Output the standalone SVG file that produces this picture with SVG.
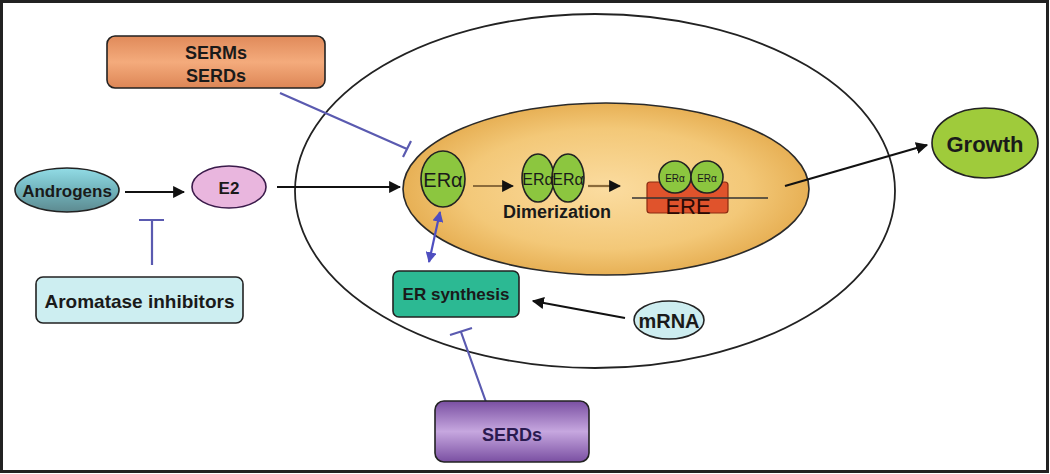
<svg xmlns="http://www.w3.org/2000/svg" width="1050" height="474" viewBox="0 0 1050 474">
<style>
.t{font-family:"Liberation Sans",Arial,sans-serif;font-weight:bold;fill:#1a1a1a;text-anchor:middle;dominant-baseline:central}
.r{font-family:"Liberation Sans",Arial,sans-serif;fill:#1a1a1a;text-anchor:middle;dominant-baseline:central}
.blk{stroke:#111;stroke-width:2.2;fill:none}
.inh{stroke:#5a5ab0;stroke-width:2.2;fill:none}
.ol{stroke:#222;stroke-width:1.6}
</style>
<defs>
<marker id="ah" viewBox="0 0 10 10" refX="9" refY="5" markerWidth="5.5" markerHeight="5.5" orient="auto"><path d="M0,0 L10,5 L0,10 z" fill="#111"/></marker>
<marker id="ahb" viewBox="0 0 10 10" refX="9" refY="5" markerWidth="5" markerHeight="5" orient="auto-start-reverse"><path d="M0,0 L10,5 L0,10 z" fill="#4e4ec0"/></marker>
<radialGradient id="gNuc" cx="50%" cy="50%" r="50%"><stop offset="0" stop-color="#fbdca0"/><stop offset="0.7" stop-color="#f3c878"/><stop offset="1" stop-color="#e7b055"/></radialGradient>
<linearGradient id="gSerm" x1="0" y1="0" x2="0" y2="1"><stop offset="0" stop-color="#e08a5a"/><stop offset="0.5" stop-color="#f4ab7c"/><stop offset="1" stop-color="#dd8656"/></linearGradient>
<linearGradient id="gAnd" x1="0" y1="0" x2="0" y2="1"><stop offset="0" stop-color="#92dce6"/><stop offset="0.5" stop-color="#72b4bc"/><stop offset="1" stop-color="#5d8a90"/></linearGradient>
<linearGradient id="gSerd" x1="0" y1="0" x2="0" y2="1"><stop offset="0" stop-color="#7a4fa2"/><stop offset="0.5" stop-color="#c6a7df"/><stop offset="1" stop-color="#7a4fa2"/></linearGradient>
</defs>
<rect x="1.5" y="1.5" width="1046" height="470" fill="#fff" stroke="#222" stroke-width="3"/>

<g id="cell"><ellipse cx="595" cy="191" rx="300" ry="177" fill="none" stroke="#222" stroke-width="1.8"/></g>
<g id="nucleus"><ellipse cx="606" cy="189" rx="203" ry="86" fill="url(#gNuc)" stroke="#2a2a2a" stroke-width="1.6"/></g>

<g id="connectors">
<line x1="125" y1="192" x2="184" y2="192" class="blk" marker-end="url(#ah)"/>
<line x1="277" y1="187" x2="400" y2="187" class="blk" marker-end="url(#ah)"/>
<line x1="473" y1="186" x2="513" y2="186" stroke="#8b6b3b" stroke-width="2.2" marker-end="url(#ah)"/>
<line x1="588" y1="186" x2="620" y2="186" stroke="#8b6b3b" stroke-width="2.2" marker-end="url(#ah)"/>
<line x1="785" y1="186" x2="927" y2="145" class="blk" marker-end="url(#ah)"/>
<line x1="625" y1="318" x2="533" y2="301" class="blk" marker-end="url(#ah)"/>
<line x1="440" y1="212" x2="429" y2="262" stroke="#4e4ec0" stroke-width="2.2" marker-start="url(#ahb)" marker-end="url(#ahb)"/>
<path class="inh" d="M152,265 L152,220 M139,220 L164,220"/>
<path class="inh" d="M280,93 L407,149 M403,157 L411,141"/>
<path class="inh" d="M486,402 L461,332 M450,335 L472,328"/>
</g>

<g id="serms"><rect x="107" y="36" width="218" height="52" rx="8" fill="url(#gSerm)" class="ol"/>
<text class="t" x="216" y="53" font-size="18">SERMs</text><text class="t" x="216" y="76" font-size="18">SERDs</text></g>

<g id="androgens"><ellipse cx="67" cy="190" rx="52" ry="22" fill="url(#gAnd)" class="ol"/>
<text class="t" x="67" y="191" font-size="17">Androgens</text></g>

<g id="e2"><ellipse cx="229" cy="187" rx="37" ry="21" fill="#e9b6de" stroke="#3a1a4a" stroke-width="1.6"/>
<text class="t" x="229" y="188" font-size="17">E2</text></g>

<g id="aromatase"><rect x="36" y="277" width="207" height="46" rx="7" fill="#cdeef1" class="ol"/>
<text class="t" x="139.5" y="301" font-size="19">Aromatase inhibitors</text></g>

<g id="era"><ellipse cx="443" cy="179" rx="22" ry="28" fill="#8cc63f" class="ol"/>
<text class="r" x="443" y="180" font-size="20">ERα</text></g>

<g id="dimer"><ellipse cx="538" cy="178" rx="16" ry="24" fill="#8cc63f" class="ol"/>
<ellipse cx="568" cy="178" rx="16" ry="24" fill="#8cc63f" class="ol"/>
<text class="r" x="538" y="179" font-size="16">ERα</text><text class="r" x="568" y="179" font-size="16">ERα</text>
<text class="t" x="557" y="212" font-size="18">Dimerization</text></g>

<g id="ere"><rect x="647" y="182" width="81" height="31" rx="3" fill="#e0532c" stroke="#8a2a10" stroke-width="1.2"/>
<line x1="632" y1="198" x2="768" y2="198" stroke="#333" stroke-width="1.5"/>
<text class="r" x="688" y="206" font-size="22" style="fill:#2a0a05">ERE</text>
<circle cx="675" cy="177" r="16" fill="#8cc63f" class="ol"/><circle cx="707" cy="177" r="16" fill="#8cc63f" class="ol"/>
<text class="r" x="675" y="178" font-size="10">ERα</text><text class="r" x="707" y="178" font-size="10">ERα</text></g>

<g id="growth"><ellipse cx="985" cy="143" rx="53" ry="35" fill="#9fcb3b" class="ol"/>
<text class="t" x="985" y="144" font-size="22">Growth</text></g>

<g id="ersynthesis"><rect x="393" y="271" width="126" height="46" rx="6" fill="#2cb993" class="ol"/>
<text class="t" x="456" y="294" font-size="17">ER synthesis</text></g>

<g id="mrna"><ellipse cx="669" cy="320" rx="35" ry="19" fill="#cdedf0" class="ol"/>
<text class="t" x="669" y="321" font-size="20">mRNA</text></g>

<g id="serds"><rect x="435" y="401" width="154" height="61" rx="9" fill="url(#gSerd)" class="ol"/>
<text class="t" x="512" y="435" font-size="18" style="fill:#2a1a50">SERDs</text></g>
</svg>
